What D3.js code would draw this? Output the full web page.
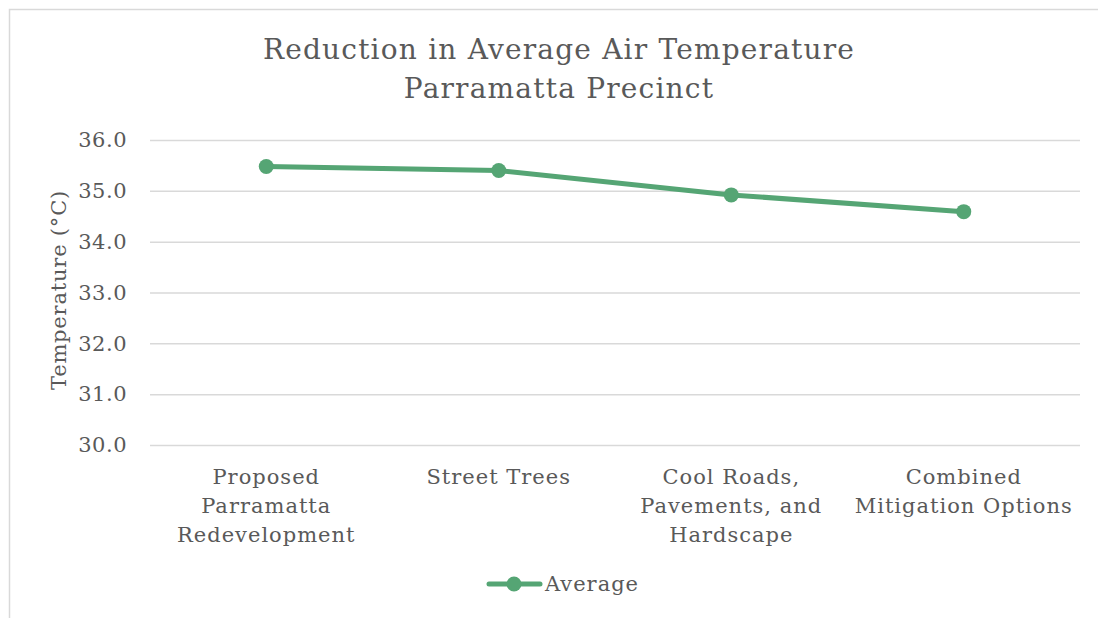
<!DOCTYPE html>
<html>
<head>
<meta charset="utf-8">
<script src="https://cdn.jsdelivr.net/npm/d3@7"></script>
<style>
  body { margin: 0; background: #fff; }
  svg text { font-family: "DejaVu Serif", serif; fill: #595959; }
</style>
</head>
<body>
<svg id="chart" width="1098" height="618"></svg>
<script>
var categories = [
  ["Proposed", "Parramatta", "Redevelopment"],
  ["Street Trees"],
  ["Cool Roads,", "Pavements, and", "Hardscape"],
  ["Combined", "Mitigation Options"]
];
var averageValues = [35.48, 35.40, 34.92, 34.59];
var yTicks = [30, 31, 32, 33, 34, 35, 36];
var titleLines = ["Reduction in Average Air Temperature", "Parramatta Precinct"];
var seriesName = "Average";

var green = "#55a574",
    grid = "#d9d9d9";

var svg = d3.select("#chart");

// chart area border (bleeds off right and bottom)
svg.append("rect")
    .attr("x", 9.5).attr("y", 9.5)
    .attr("width", 1100).attr("height", 620)
    .attr("fill", "none")
    .attr("stroke", grid)
    .attr("stroke-width", 1.5);

var plot = {left: 150, right: 1080, top: 140, bottom: 445};

var x = d3.scaleBand()
    .domain(d3.range(categories.length))
    .range([plot.left, plot.right]);

var y = d3.scaleLinear()
    .domain([30, 36])
    .range([plot.bottom, plot.top]);

// title
svg.append("text")
    .attr("text-anchor", "middle")
    .attr("font-size", 28)
    .attr("letter-spacing", 1.2)
    .selectAll("tspan")
    .data(titleLines)
    .join("tspan")
    .attr("x", 559)
    .attr("y", (d, i) => 59 + i * 39)
    .text(d => d);

// gridlines + y labels
var yAxis = svg.append("g")
    .attr("transform", "translate(" + plot.left + ",0)")
    .call(d3.axisLeft(y)
        .tickValues(yTicks)
        .tickSize(-(plot.right - plot.left))
        .tickPadding(23)
        .tickFormat(d3.format(".1f")));

yAxis.select(".domain").remove();
yAxis.selectAll(".tick line").attr("stroke", grid).attr("stroke-width", 1.5);
yAxis.selectAll(".tick text")
    .attr("font-size", 21)
    .attr("letter-spacing", 0.5)
    .attr("fill", "#595959")
    .attr("font-family", "DejaVu Serif, serif");

// y axis title
svg.append("text")
    .attr("transform", "translate(66,290) rotate(-90)")
    .attr("text-anchor", "middle")
    .attr("font-size", 21)
    .attr("letter-spacing", 0.8)
    .text("Temperature (°C)");

// category labels
svg.append("g")
    .selectAll("text")
    .data(categories)
    .join("text")
    .attr("text-anchor", "middle")
    .attr("font-size", 21)
    .attr("letter-spacing", 1)
    .each(function (lines, i) {
        d3.select(this).selectAll("tspan")
            .data(lines)
            .join("tspan")
            .attr("x", x(i) + x.bandwidth() / 2)
            .attr("y", (d, j) => 484 + j * 29)
            .text(d => d);
    });

// series line
var line = d3.line()
    .x((d, i) => x(i) + x.bandwidth() / 2)
    .y(d => y(d));

svg.append("path")
    .datum(averageValues)
    .attr("d", line)
    .attr("fill", "none")
    .attr("stroke", green)
    .attr("stroke-width", 5)
    .attr("stroke-linejoin", "round")
    .attr("stroke-linecap", "round");

svg.append("g")
    .selectAll("circle")
    .data(averageValues)
    .join("circle")
    .attr("cx", (d, i) => x(i) + x.bandwidth() / 2)
    .attr("cy", d => y(d))
    .attr("r", 7.5)
    .attr("fill", green);

// legend
var legend = svg.append("g").attr("transform", "translate(487,584)");
legend.append("line")
    .attr("x1", 2).attr("x2", 53)
    .attr("stroke", green)
    .attr("stroke-width", 5)
    .attr("stroke-linecap", "round");
legend.append("circle")
    .attr("cx", 27).attr("r", 7.5)
    .attr("fill", green);
legend.append("text")
    .attr("x", 58).attr("y", 7)
    .attr("font-size", 21)
    .attr("letter-spacing", 1)
    .text(seriesName);
</script>
</body>
</html>
